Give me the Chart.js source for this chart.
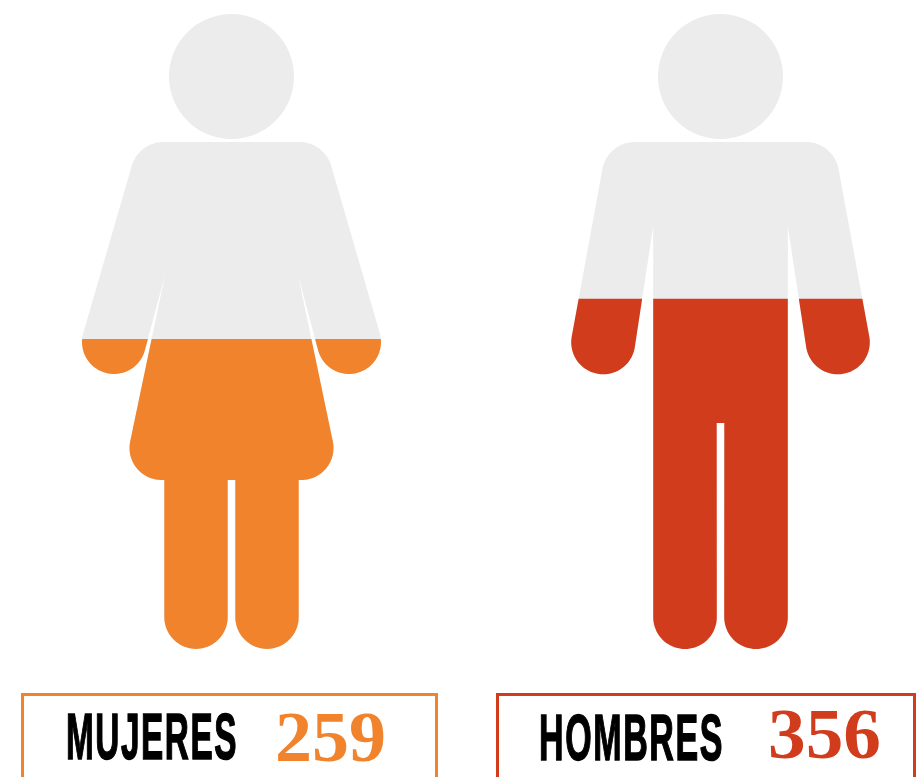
<!DOCTYPE html>
<html lang="es">
<head>
  <meta charset="UTF-8">
  <title>Mujeres y hombres</title>
  <script src="https://cdn.jsdelivr.net/npm/chart.js"></script>
  <style>
    html, body { margin: 0; padding: 0; background: #fff; }
    body { width: 919px; height: 777px; overflow: hidden; position: relative; }
    canvas { position: absolute; left: -13px; top: 0; }
    .box { position: absolute; top: 693px; height: 120px; border: 3px solid; box-sizing: border-box; }
    .box span { position: absolute; white-space: nowrap; transform-origin: 0 0; line-height: 72px; height: 72px; }
    .name { font: bold 64px "Liberation Sans", sans-serif; color: #000; letter-spacing: 3px; -webkit-text-stroke: 1.5px #000; }
    .count { font: bold 72px "Liberation Serif", serif; }
  </style>
</head>
<body>
  <canvas id="chart" width="979" height="777"></canvas>
  <div class="box" id="box0" style="left:21px;width:417px"><span class="name"></span><span class="count"></span></div>
  <div class="box" id="box1" style="left:496px;width:420px"><span class="name"></span><span class="count"></span></div>

  <script>
    const categories = ['MUJERES', 'HOMBRES'];
    const counts = [259, 356];
    // how far up the figure the colour reaches, percent of its height
    const fillLevels = [48.7, 55.0];
    const colors = ['#f0832c', '#d13d1c'];
    const figureColor = '#ececec';

    // label placement inside each box: [left, top, target width]
    const namePos = [[42, 5, 172], [40, 6, 185]];
    const countPos = [[251, 5, 111], [269, 2, 113]];

    const FEET = 649;

    function arcPts(cx, cy, r, from, to) {
      const pts = [];
      for (let i = 0; i <= 40; i++) {
        const a = (from + (to - from) * i / 40) * Math.PI / 180;
        pts.push([cx + r * Math.cos(a), cy + r * Math.sin(a)]);
      }
      return pts;
    }

    const womanHalf = [
      [0, 142],
      ...arcPts(68, 175, 33, -90, -16.2),
      ...arcPts(117.5, 342, 32, -16.2, 165),
      [66.5, 275],
      ...arcPts(70, 448, 32, -11.6, 90),
      [67.2, 480],
      ...arcPts(35.5, 617.2, 31.7, 0, 180),
      [3.8, 480],
      [0, 480]
    ];
    const manHalf = [
      [0, 142],
      ...arcPts(85.6, 175, 33, -90, -10.4),
      ...arcPts(117.3, 342.3, 32, -10.4, 171),
      [67.3, 226],
      ...arcPts(35.5, 617.2, 31.8, 0, 180),
      [3.8, 423],
      [0, 423]
    ];
    const halves = [womanHalf, manHalf];

    function figurePath(chart) {
      const path = new Path2D();
      const base = chart.scales.y.getPixelForValue(0);
      halves.forEach((half, i) => {
        const cx = chart.scales.x.getPixelForValue(i);
        const outline = [
          ...half.map(p => [cx + p[0], base + p[1] - FEET]),
          ...half.slice().reverse().map(p => [cx - p[0], base + p[1] - FEET])
        ];
        outline.forEach((p, k) => k ? path.lineTo(p[0], p[1]) : path.moveTo(p[0], p[1]));
        path.closePath();
        path.moveTo(cx + 62.5, base + 76.5 - FEET);
        path.arc(cx, base + 76.5 - FEET, 62.5, 0, Math.PI * 2);
        path.closePath();
      });
      return path;
    }

    // bars only show through the silhouettes
    const silhouette = {
      id: 'silhouette',
      beforeDatasetsDraw(chart) {
        const ctx = chart.ctx;
        const path = figurePath(chart);
        ctx.save();
        ctx.fillStyle = figureColor;
        ctx.fill(path);
        ctx.clip(path);
      },
      afterDatasetsDraw(chart) {
        chart.ctx.restore();
      }
    };

    new Chart(document.getElementById('chart'), {
      type: 'bar',
      data: {
        labels: categories,
        datasets: [{
          data: fillLevels,
          backgroundColor: colors,
          barThickness: 330,
          borderWidth: 0
        }]
      },
      options: {
        responsive: false,
        animation: false,
        layout: { padding: { left: 0, right: 1, top: 13, bottom: 128 } },
        plugins: { legend: { display: false }, tooltip: { enabled: false } },
        scales: {
          x: { display: false },
          y: { display: false, min: 0, max: 100 }
        }
      },
      plugins: [silhouette]
    });

    function place(el, text, pos) {
      el.textContent = text;
      el.style.left = pos[0] + 'px';
      el.style.top = pos[1] + 'px';
      el.style.transform = 'scaleX(' + pos[2] / el.getBoundingClientRect().width + ')';
    }

    categories.forEach((name, i) => {
      const box = document.getElementById('box' + i);
      box.style.borderColor = colors[i];
      place(box.querySelector('.name'), name, namePos[i]);
      const count = box.querySelector('.count');
      count.style.color = colors[i];
      place(count, counts[i], countPos[i]);
    });
  </script>
</body>
</html>
